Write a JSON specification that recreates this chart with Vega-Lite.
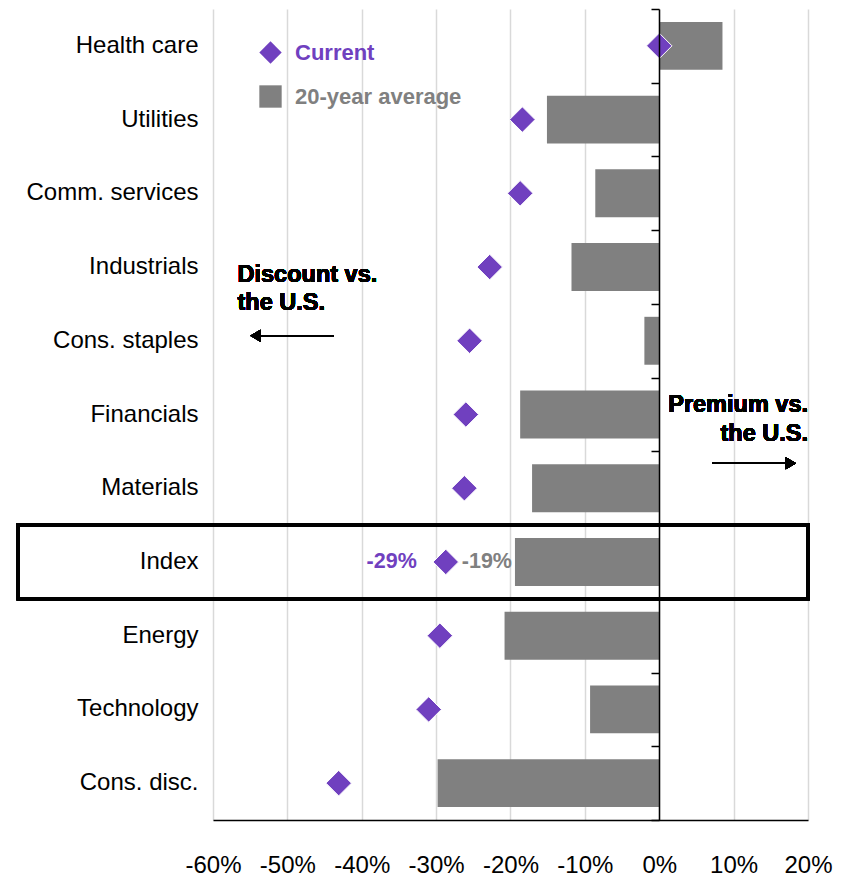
{
  "$schema": "https://vega.github.io/schema/vega-lite/v6.json",
  "width": 595,
  "height": 811,
  "autosize": {"type": "none"},
  "padding": {"left": 213, "top": 9, "right": 42, "bottom": 62},
  "background": "white",
  "config": {
    "font": "Liberation Sans",
    "view": {"stroke": null},
    "locale": {"number": {"decimal": ".", "thousands": ",", "grouping": [3], "currency": ["$", ""], "minus": "-"}}
  },
  "data": {
    "values": [
      {"sector": "Health care", "series": "Current", "value": 0.0},
      {"sector": "Health care", "series": "20-year average", "value": 0.085},
      {"sector": "Utilities", "series": "Current", "value": -0.184},
      {"sector": "Utilities", "series": "20-year average", "value": -0.151},
      {"sector": "Comm. services", "series": "Current", "value": -0.187},
      {"sector": "Comm. services", "series": "20-year average", "value": -0.086},
      {"sector": "Industrials", "series": "Current", "value": -0.228},
      {"sector": "Industrials", "series": "20-year average", "value": -0.118},
      {"sector": "Cons. staples", "series": "Current", "value": -0.255},
      {"sector": "Cons. staples", "series": "20-year average", "value": -0.020},
      {"sector": "Financials", "series": "Current", "value": -0.260},
      {"sector": "Financials", "series": "20-year average", "value": -0.187},
      {"sector": "Materials", "series": "Current", "value": -0.262},
      {"sector": "Materials", "series": "20-year average", "value": -0.171},
      {"sector": "Index", "series": "Current", "value": -0.287},
      {"sector": "Index", "series": "20-year average", "value": -0.194},
      {"sector": "Energy", "series": "Current", "value": -0.295},
      {"sector": "Energy", "series": "20-year average", "value": -0.208},
      {"sector": "Technology", "series": "Current", "value": -0.310},
      {"sector": "Technology", "series": "20-year average", "value": -0.093},
      {"sector": "Cons. disc.", "series": "Current", "value": -0.431},
      {"sector": "Cons. disc.", "series": "20-year average", "value": -0.298}
    ]
  },
  "layer": [
    {
      "transform": [{"filter": "datum.series === '20-year average'"}],
      "mark": {"type": "bar", "height": {"band": 0.65}, "color": "#808080"},
      "encoding": {
        "y": {
          "field": "sector", "type": "nominal",
          "scale": {"domain": ["Health care", "Utilities", "Comm. services", "Industrials", "Cons. staples", "Financials", "Materials", "Index", "Energy", "Technology", "Cons. disc."], "paddingInner": 0, "paddingOuter": 0},
          "axis": {"title": null, "domain": false, "ticks": false, "labelFontSize": 24, "labelColor": "black", "labelPadding": 15, "grid": false}
        },
        "x": {
          "field": "value", "type": "quantitative",
          "scale": {"domain": [-0.6, 0.2], "nice": false, "zero": false},
          "axis": {"title": null, "values": [-0.6, -0.5, -0.4, -0.3, -0.2, -0.1, 0, 0.1, 0.2], "format": ".0%", "grid": true, "gridColor": "#d9d9d9", "gridWidth": 1.5, "ticks": false, "domainColor": "black", "domainWidth": 1.5, "labelFontSize": 24, "labelColor": "black", "labelPadding": 33, "labelFlush": false}
        },
        "color": {
          "field": "series", "type": "nominal",
          "scale": {"domain": ["Current", "20-year average"], "range": ["#7040bf", "#808080"]},
          "legend": {"title": null, "orient": "none", "legendX": 46, "legendY": 32, "symbolSize": 500, "labelFontSize": 22, "labelFontWeight": "bold", "labelOffset": 13, "labelLimit": 400, "rowPadding": 21, "padding": 0, "symbolStrokeWidth": 0, "encode": {"labels": {"update": {"fill": {"signal": "datum.value === 'Current' ? '#7040bf' : '#808080'"}}}}}
        }
      }
    },
    {
      "transform": [{"filter": "datum.series === 'Current'"}],
      "mark": {"type": "point", "filled": true, "opacity": 1, "size": 650, "stroke": "white", "strokeWidth": 1},
      "encoding": {
        "y": {"field": "sector", "type": "nominal", "axis": null},
        "x": {"field": "value", "type": "quantitative"},
        "color": {"field": "series", "type": "nominal"},
        "shape": {
          "field": "series", "type": "nominal",
          "scale": {"domain": ["Current", "20-year average"], "range": ["diamond", "square"]},
          "legend": {"title": null, "orient": "none", "legendX": 46, "legendY": 32, "symbolSize": 500, "labelFontSize": 22, "labelFontWeight": "bold", "labelOffset": 13, "labelLimit": 400, "rowPadding": 21, "padding": 0, "symbolStrokeWidth": 0, "encode": {"labels": {"update": {"fill": {"signal": "datum.value === 'Current' ? '#7040bf' : '#808080'"}}}}}
        }
      }
    },
    {
      "transform": [{"filter": "datum.sector === 'Index' && datum.series === 'Current'"}],
      "mark": {"type": "text", "align": "right", "baseline": "middle", "dx": -29, "fontSize": 21.5, "fontWeight": "bold", "fill": "#7040bf"},
      "encoding": {
        "y": {"field": "sector", "type": "nominal", "axis": null},
        "x": {"field": "value", "type": "quantitative"},
        "text": {"field": "value", "type": "quantitative", "format": ".0%"}
      }
    },
    {
      "transform": [{"filter": "datum.sector === 'Index' && datum.series === '20-year average'"}],
      "mark": {"type": "text", "align": "right", "baseline": "middle", "dx": -3, "fontSize": 21.5, "fontWeight": "bold", "fill": "#808080"},
      "encoding": {
        "y": {"field": "sector", "type": "nominal", "axis": null},
        "x": {"field": "value", "type": "quantitative"},
        "text": {"field": "value", "type": "quantitative", "format": ".0%"}
      }
    },
    {
      "mark": {"type": "rect", "fill": null, "stroke": "black", "strokeWidth": 3},
      "encoding": {
        "y": {"datum": "Index", "type": "nominal", "axis": {"title": null, "orient": "left", "offset": -446, "labels": false, "domain": true, "domainColor": "black", "domainWidth": 1.5, "ticks": true, "tickColor": "black", "tickSize": 8, "tickWidth": 1.5, "tickBand": "extent", "grid": false, "zindex": 1}},
        "x": {"datum": -0.862, "type": "quantitative"},
        "x2": {"datum": 0.2}
      }
    },
    {
      "mark": {"type": "text", "text": ["Discount  vs.", "the U.S."], "align": "left", "baseline": "alphabetic", "dy": 15, "lineHeight": 28, "fontSize": 23.5, "fontWeight": "bold", "fill": "black"},
      "encoding": {
        "y": {"datum": "Industrials", "type": "nominal", "axis": null},
        "x": {"datum": -0.567, "type": "quantitative"}
      }
    },
    {
      "mark": {"type": "text", "text": ["Premium vs.", "the U.S."], "align": "right", "baseline": "alphabetic", "dy": -3, "lineHeight": 29, "fontSize": 23.5, "fontWeight": "bold", "fill": "black"},
      "encoding": {
        "y": {"datum": "Financials", "type": "nominal", "axis": null},
        "x": {"datum": 0.2, "type": "quantitative"}
      }
    },
    {
      "mark": {"type": "rule", "color": "black", "strokeWidth": 1.5, "yOffset": -5},
      "encoding": {
        "y": {"datum": "Cons. staples", "type": "nominal", "axis": null},
        "x": {"datum": -0.438, "type": "quantitative"},
        "x2": {"datum": -0.535}
      }
    },
    {
      "mark": {"type": "point", "shape": "triangle-left", "filled": true, "opacity": 1, "color": "black", "size": 140, "yOffset": -5},
      "encoding": {
        "y": {"datum": "Cons. staples", "type": "nominal", "axis": null},
        "x": {"datum": -0.543, "type": "quantitative"}
      }
    },
    {
      "mark": {"type": "rule", "color": "black", "strokeWidth": 1.5, "yOffset": -25},
      "encoding": {
        "y": {"datum": "Materials", "type": "nominal", "axis": null},
        "x": {"datum": 0.071, "type": "quantitative"},
        "x2": {"datum": 0.175}
      }
    },
    {
      "mark": {"type": "point", "shape": "triangle-right", "filled": true, "opacity": 1, "color": "black", "size": 140, "yOffset": -25},
      "encoding": {
        "y": {"datum": "Materials", "type": "nominal", "axis": null},
        "x": {"datum": 0.177, "type": "quantitative"}
      }
    }
  ],
  "resolve": {"axis": {"y": "independent"}}
}
